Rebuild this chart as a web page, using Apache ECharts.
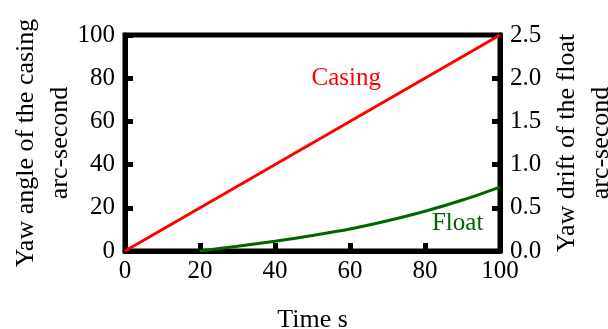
<!DOCTYPE html>
<html>
<head>
<meta charset="utf-8">
<script src="https://cdn.jsdelivr.net/npm/echarts@6/dist/echarts.min.js"></script>
<style>
html,body{margin:0;padding:0;background:#fff;}
#chart{width:608px;height:329px;}
</style>
</head>
<body>
<div id="chart"></div>
<script>
// ---- data ----
var timeTicks = [0, 20, 40, 60, 80, 100];
var casingTime = [0, 100];
var casingAngle = [0, 100];
var floatTime = [20, 30, 40, 50, 60, 70, 80, 90, 100];
var floatDrift = [0, 0.055, 0.113, 0.18, 0.255, 0.35, 0.46, 0.59, 0.74];
var casingLabel = 'Casing';
var floatLabel = 'Float';
var casingLabelAt = [59, 80];
var floatLabelAt = [88.7, 0.32];

function pairs(xs, ys) { return xs.map(function (x, i) { return [x, ys[i]]; }); }

var FONT = 'Liberation Serif';
var chart = echarts.init(document.getElementById('chart'), null, {renderer: 'canvas'});
var axisLine = {show: true, lineStyle: {color: '#000', width: 5}};
var axisTick = {show: true, inside: true, length: 8, lineStyle: {color: '#000', width: 5}};

function textMark(at, text, color) {
  return {
    symbol: 'rect', symbolSize: 1, itemStyle: {color: 'rgba(0,0,0,0)'},
    data: [{coord: at, value: text}],
    label: {show: true, position: 'inside', formatter: text, fontFamily: FONT, fontSize: 25, color: color}
  };
}

chart.setOption({
  animation: false,
  backgroundColor: '#fff',
  grid: {left: 125, right: 108, top: 35, bottom: 78, outerBoundsMode: 'none', containLabel: false,
    show: true, borderColor: '#000', borderWidth: 5, backgroundColor: 'transparent'},
  xAxis: {
    type: 'value', min: 0, max: 100, interval: 20,
    name: 'Time s', nameLocation: 'middle', nameGap: 56, nameMoveOverlap: false,
    nameTextStyle: {fontFamily: FONT, fontSize: 26, color: '#000'},
    axisLine: axisLine, axisTick: axisTick, splitLine: {show: false},
    axisLabel: {fontFamily: FONT, fontSize: 25, color: '#000', margin: 8}
  },
  yAxis: [{
    type: 'value', min: 0, max: 100, interval: 20, position: 'left',
    name: 'Yaw angle of the casing\narc-second', nameLocation: 'middle', nameGap: 48, nameRotate: 90,
    nameMoveOverlap: false,
    nameTextStyle: {fontFamily: FONT, fontSize: 26, color: '#000', lineHeight: 34, align: 'center'},
    axisLine: axisLine, axisTick: axisTick, splitLine: {show: false},
    axisLabel: {fontFamily: FONT, fontSize: 25, color: '#000', margin: 10}
  }, {
    type: 'value', min: 0, max: 2.5, interval: 0.5, position: 'right',
    name: 'Yaw drift of the float\narc-second', nameLocation: 'middle', nameGap: 50, nameRotate: 90,
    nameMoveOverlap: false,
    nameTextStyle: {fontFamily: FONT, fontSize: 26, color: '#000', lineHeight: 34, align: 'center'},
    axisLine: axisLine, axisTick: axisTick, splitLine: {show: false},
    axisLabel: {fontFamily: FONT, fontSize: 25, color: '#000', margin: 10,
      formatter: function (v) { return v.toFixed(1); }}
  }],
  series: [{
    type: 'line', yAxisIndex: 0, data: pairs(casingTime, casingAngle),
    showSymbol: false, lineStyle: {color: '#ff0000', width: 3}, itemStyle: {color: '#ff0000'},
    markPoint: textMark(casingLabelAt, casingLabel, '#ff0000')
  }, {
    type: 'line', yAxisIndex: 1, data: pairs(floatTime, floatDrift), smooth: 0.3,
    showSymbol: false, lineStyle: {color: '#006400', width: 3}, itemStyle: {color: '#006400'},
    markPoint: textMark(floatLabelAt, floatLabel, '#006400')
  }]
});
</script>
</body>
</html>
